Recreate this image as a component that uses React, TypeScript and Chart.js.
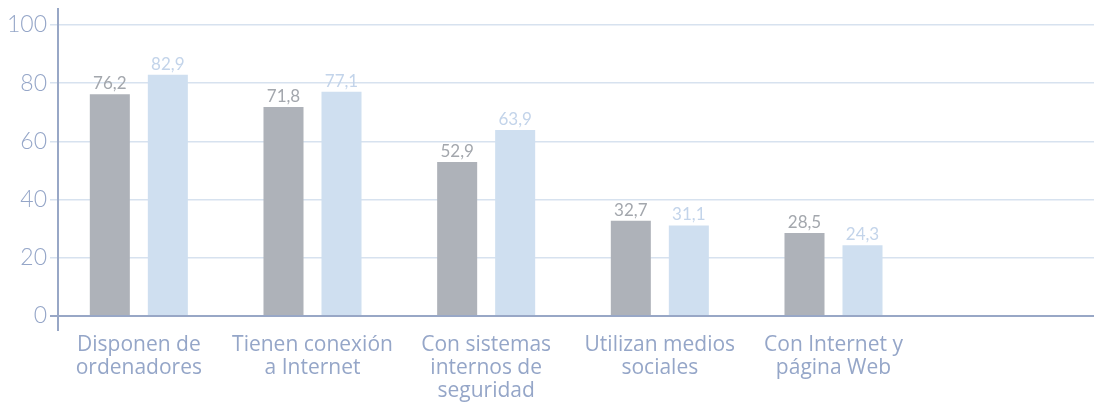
import React, { useEffect, useRef } from "react";
import { Chart, registerables } from "chart.js";

Chart.register(...registerables);

const categories: (string | string[])[] = [
  ["Disponen de", "ordenadores"],
  ["Tienen conexión", "a Internet"],
  ["Con sistemas", "internos de", "seguridad"],
  ["Utilizan medios", "sociales"],
  ["Con Internet y", "página Web"],
  "",
];
const seriesA: (number | null)[] = [76.2, 71.8, 52.9, 32.7, 28.5, null];
const seriesB: (number | null)[] = [82.9, 77.1, 63.9, 31.1, 24.3, null];
const yTicks = [0, 20, 40, 60, 80, 100];

const colorA = "#aeb2b9";
const colorB = "#cfdff0";
const labelColorA = "#a3a7ad";
const labelColorB = "#c3d4ea";
const axisColor = "#98a7c6";
const gridColor = "#d7e2ef";
const tickColor = "#95a6c8";
const FONT = "'Open Sans', Lato, sans-serif";
const FONT_LIGHT = "Lato, 'Open Sans', sans-serif";

const fmt = (v: number) => v.toFixed(1).replace(".", ",");

const overlayPlugin = {
  id: "overlay",
  afterDatasetsDraw(chart: any) {
    const ctx = chart.ctx;
    const area = chart.chartArea;
    const axisX = area.left + 6;
    ctx.save();
    ctx.font = `400 17px ${FONT_LIGHT}`;
    ctx.textAlign = "center";
    ctx.textBaseline = "alphabetic";
    chart.data.datasets.forEach((ds: any, di: number) => {
      const meta = chart.getDatasetMeta(di);
      ctx.fillStyle = di === 0 ? labelColorA : labelColorB;
      meta.data.forEach((bar: any, i: number) => {
        const v = ds.data[i];
        if (v == null) return;
        ctx.fillText(fmt(v), bar.x, bar.y - 5);
      });
    });
    ctx.strokeStyle = axisColor;
    ctx.lineWidth = 2;
    ctx.beginPath();
    ctx.moveTo(axisX, 8);
    ctx.lineTo(axisX, area.bottom + 15);
    ctx.moveTo(axisX - 8, area.bottom);
    ctx.lineTo(chart.width, area.bottom);
    ctx.stroke();
    ctx.restore();
  },
};

export default function App() {
  const ref = useRef<HTMLCanvasElement | null>(null);
  useEffect(() => {
    document.body.style.margin = "0";
    const canvas = ref.current!;
    const chart = new Chart(canvas, {
      type: "bar",
      data: {
        labels: categories,
        datasets: [
          { label: "A", data: seriesA, backgroundColor: colorA },
          { label: "B", data: seriesB, backgroundColor: colorB },
        ],
      },
      options: {
        responsive: false,
        animation: false,
        layout: { padding: { top: 25, right: 0, left: 0, bottom: 0 } },
        plugins: { legend: { display: false }, tooltip: { enabled: false } },
        datasets: { bar: { categoryPercentage: 0.668, barPercentage: 0.69 } },
        scales: {
          x: {
            grid: { display: false, drawTicks: false },
            border: { display: false },
            ticks: {
              color: tickColor,
              font: { family: FONT, size: 21, weight: "400", lineHeight: 1.1 },
              padding: 17,
              maxRotation: 0,
              autoSkip: false,
            },
            afterFit(scale: any) {
              scale.height = 87;
            },
          },
          y: {
            min: 0,
            max: 100,
            afterBuildTicks(scale: any) {
              scale.ticks = yTicks.map((v) => ({ value: v }));
            },
            grid: { color: gridColor, lineWidth: 1.5, tickLength: 2, drawTicks: true },
            border: { display: false },
            ticks: {
              color: tickColor,
              font: { family: FONT_LIGHT, size: 23, weight: "300" },
              padding: 3,
            },
            afterFit(scale: any) {
              scale.width = 52;
            },
          },
        },
      },
      plugins: [overlayPlugin],
    });
    return () => chart.destroy();
  }, []);
  return (
    <div style={{ width: 1094, height: 403 }}>
      <canvas ref={ref} width={1094} height={403} style={{ display: "block" }} />
    </div>
  );
}
